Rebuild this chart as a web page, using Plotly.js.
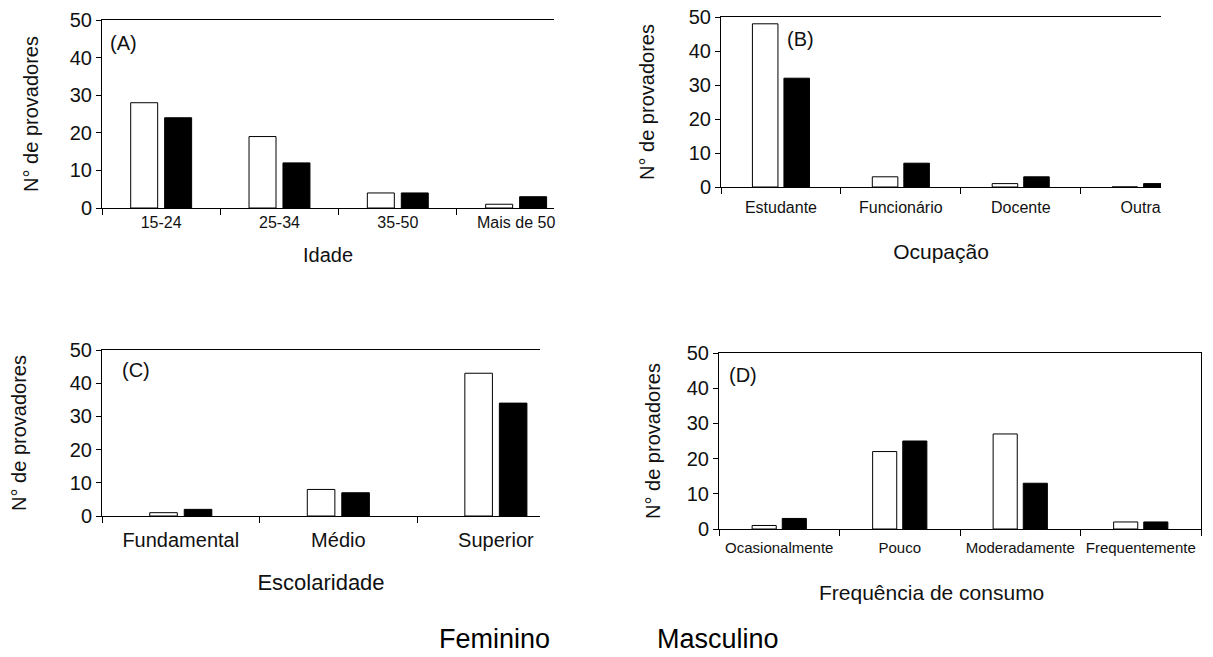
<!DOCTYPE html>
<html>
<head>
<meta charset="utf-8">
<script src="https://cdn.plot.ly/plotly-3.0.1.min.js"></script>
<style>html,body{margin:0;padding:0;background:#fff;}#chart{width:1213px;height:657px;}</style>
</head>
<body>
<div id="chart"></div>
<script>
// ---- data ----
const ageCats = ['15-24', '25-34', '35-50', 'Mais de 50'];
const ageFem = [28, 19, 4, 1];
const ageMasc = [24, 12, 4, 3];

const occCats = ['Estudante', 'Funcionário', 'Docente', 'Outra'];
const occFem = [48, 3, 1, 0];
const occMasc = [32, 7, 3, 1];

const eduCats = ['Fundamental', 'Médio', 'Superior'];
const eduFem = [1, 8, 43];
const eduMasc = [2, 7, 34];

const freqCats = ['Ocasionalmente', 'Pouco', 'Moderadamente', 'Frequentemente'];
const freqFem = [1, 22, 27, 2];
const freqMasc = [3, 25, 13, 2];

const seriesNames = ['Feminino', 'Masculino'];
const yTickVals = [0, 10, 20, 30, 40, 50];
const panelLabels = ['(A)', '(B)', '(C)', '(D)'];
const xTitles = ['Idade', 'Ocupação', 'Escolaridade', 'Frequência de consumo'];
const yTitle = 'N° de provadores';

// ---- styling / layout ----
const FONT = "'Liberation Sans', Arial, sans-serif";
const W = 1213, H = 657;
const px = v => v / W;
const py = v => 1 - v / H;

const panels = [
  {cats: ageCats, fem: ageFem, masc: ageMasc, x0: 102, x1: 554, yTop: 20, yBot: 208, xEnd: 3.32,
   bw: 0.228, gap: 0.059, tickSize: 16, titleSize: 20, mirrorY: false,
   xLabStand: 0, xTitleStand: 17, yTitleStand: 25, lab: {x: 0.013, y: 0.878}},
  {cats: occCats, fem: occFem, masc: occMasc, x0: 721, x1: 1161, yTop: 17, yBot: 187, xEnd: 3.17,
   bw: 0.213, gap: 0.05, tickSize: 16, titleSize: 21, mirrorY: false,
   xLabStand: 6, xTitleStand: 29, yTitleStand: 28, lab: {x: 0.145, y: 0.871}},
  {cats: eduCats, fem: eduFem, masc: eduMasc, x0: 102, x1: 540, yTop: 350, yBot: 516, xEnd: 2.28,
   bw: 0.175, gap: 0.044, tickSize: 20, titleSize: 22, mirrorY: false,
   xLabStand: 6, xTitleStand: 24, yTitleStand: 37, lab: {x: 0.041, y: 0.88}},
  {cats: freqCats, fem: freqFem, masc: freqMasc, x0: 719, x1: 1201, yTop: 353, yBot: 529, xEnd: 3.5,
   bw: 0.2, gap: 0.05, tickSize: 15, titleSize: 21, mirrorY: true,
   xLabStand: 5, xTitleStand: 29, yTitleStand: 20, lab: {x: 0.017, y: 0.875},
   titleAnn: {x: 932, y: 592}}
];

const data = [];
const layout = {
  width: W, height: H,
  margin: {l: 0, r: 0, t: 0, b: 0},
  paper_bgcolor: '#ffffff',
  plot_bgcolor: '#ffffff',
  barmode: 'overlay',
  showlegend: false,
  font: {family: FONT, color: '#000'},
  annotations: []
};

panels.forEach((p, i) => {
  const n = i === 0 ? '' : String(i + 1);
  const xa = 'x' + n, ya = 'y' + n;
  data.push({
    type: 'bar', name: seriesNames[0], x: p.cats, y: p.fem, xaxis: xa, yaxis: ya,
    width: p.bw, offset: -p.bw - p.gap / 2,
    marker: {color: '#ffffff', line: {color: '#000', width: 1}}
  });
  data.push({
    type: 'bar', name: seriesNames[1], x: p.cats, y: p.masc, xaxis: xa, yaxis: ya,
    width: p.bw, offset: p.gap / 2,
    marker: {color: '#000000', line: {color: '#000', width: 1}}
  });
  const titleFont = {family: FONT, size: p.titleSize, color: '#111'};
  layout['xaxis' + n] = {
    domain: [px(p.x0), px(p.x1)],
    anchor: ya,
    type: 'category',
    range: [-0.5, p.xEnd],
    tickson: 'boundaries',
    ticks: 'outside', ticklen: 6, tickcolor: '#000', tickwidth: 1,
    ticklabelstandoff: p.xLabStand,
    showline: true, linecolor: '#000', linewidth: 1,
    mirror: true,
    showgrid: false, zeroline: false,
    tickfont: {family: FONT, size: p.tickSize, color: '#111'},
    title: p.titleAnn ? {text: ''} : {text: xTitles[i], font: titleFont, standoff: p.xTitleStand},
    automargin: false, fixedrange: true
  };
  if (p.titleAnn) {
    layout.annotations.push({
      text: xTitles[i], xref: 'paper', yref: 'paper', x: px(p.titleAnn.x), y: py(p.titleAnn.y),
      xanchor: 'center', yanchor: 'middle', showarrow: false, font: titleFont
    });
  }
  layout['yaxis' + n] = {
    domain: [py(p.yBot), py(p.yTop)],
    anchor: xa,
    range: [0, 50],
    tickmode: 'array', tickvals: yTickVals,
    ticks: 'outside', ticklen: 5, tickcolor: '#000', tickwidth: 1,
    showline: true, linecolor: '#000', linewidth: 1,
    mirror: p.mirrorY,
    showgrid: false, zeroline: false,
    tickfont: {family: FONT, size: 20, color: '#111'},
    title: {text: yTitle, font: {family: FONT, size: 20, color: '#111'}, standoff: p.yTitleStand},
    automargin: false, fixedrange: true
  };
  layout.annotations.push({
    text: panelLabels[i], xref: xa + ' domain', yref: ya + ' domain',
    x: p.lab.x, y: p.lab.y, xanchor: 'left', yanchor: 'middle', showarrow: false,
    font: {family: FONT, size: 20, color: '#111'}
  });
});

// legend labels (text only, as in the reference)
const legendX = [494, 718];
seriesNames.forEach((s, k) => {
  layout.annotations.push({
    text: s, xref: 'paper', yref: 'paper', x: px(legendX[k]), y: py(639),
    xanchor: 'center', yanchor: 'middle', showarrow: false,
    font: {family: FONT, size: 27, color: '#000'}
  });
});

Plotly.newPlot('chart', data, layout, {displayModeBar: false, staticPlot: true});
</script>
</body>
</html>
